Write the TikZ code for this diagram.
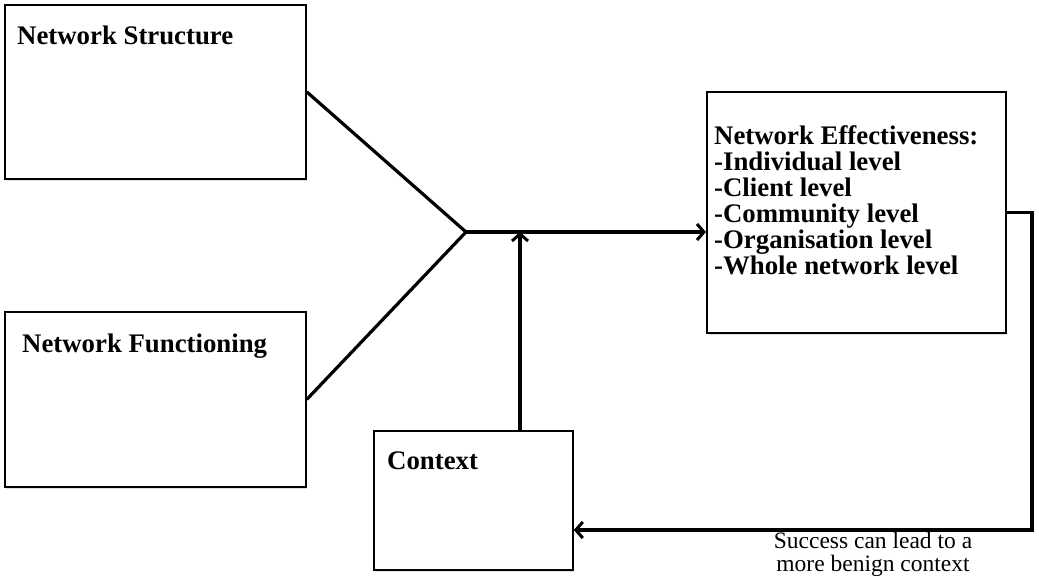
\documentclass[tikz,border=0pt]{standalone}
\usepackage{fontspec}
\setmainfont{Liberation Serif}
\usetikzlibrary{arrows.meta,shadows}
\begin{document}
\begin{tikzpicture}[x=1pt,y=-1pt,
  box/.style={draw,line width=1.8pt,fill=white,rectangle,inner sep=0pt,anchor=north west,
    drop shadow={shadow xshift=1.2pt,shadow yshift=-1.8pt,opacity=0.25}},
  title/.style={anchor=base west,inner sep=0pt,font=\fontsize{26.8}{26}\selectfont\bfseries,align=left},
  conn/.style={line width=3.2pt},
  tip/.style={-{Straight Barb[length=7pt,width=16pt,line width=3pt]}}
]
\useasboundingbox (0,0) rectangle (1039,578);
\fill[white] (0,0) rectangle (1039,578);

% boxes
\node[box,minimum width=301pt,minimum height=174pt] (ns) at (4,4) {};
\node[box,minimum width=301pt,minimum height=175pt] (nf) at (4,311) {};
\node[box,minimum width=199pt,minimum height=139pt] (ctx) at (373,430) {};
\node[box,minimum width=299pt,minimum height=241pt] (eff) at (706,91) {};

% titles (multi-line nodes are placed by the baseline of their last line)
\node[title] (nst) at (17,45) {Network Structure};
\node[title] (nft) at (22,352) {Network Functioning};
\node[title] (ctt) at (387,469) {Context};
\node[title] (eft) at (714,274) {Network Effectiveness:\\-Individual level\\-Client level\\-Community level\\-Organisation level\\-Whole network level};

% note under the feedback loop
\node[anchor=base,inner sep=0pt,align=center,font=\fontsize{23.5}{23}\selectfont] (note) at (873,571)
  {Success can lead to a\\more benign context};

% connectors
\coordinate (j) at (466,232);
\coordinate (v) at (520,232);
\coordinate (fb) at (1032,530);
\draw[conn] (ns.east) -- (j);
\draw[conn] (nf.east) -- (j);
\draw[conn,tip] (j) -- (j -| eff.west);
\draw[conn,tip] (v |- ctx.north) -- (v);
\draw[conn,tip,line join=miter] (eff.east) -| (fb) -- (fb -| ctx.east);
\end{tikzpicture}
\end{document}
